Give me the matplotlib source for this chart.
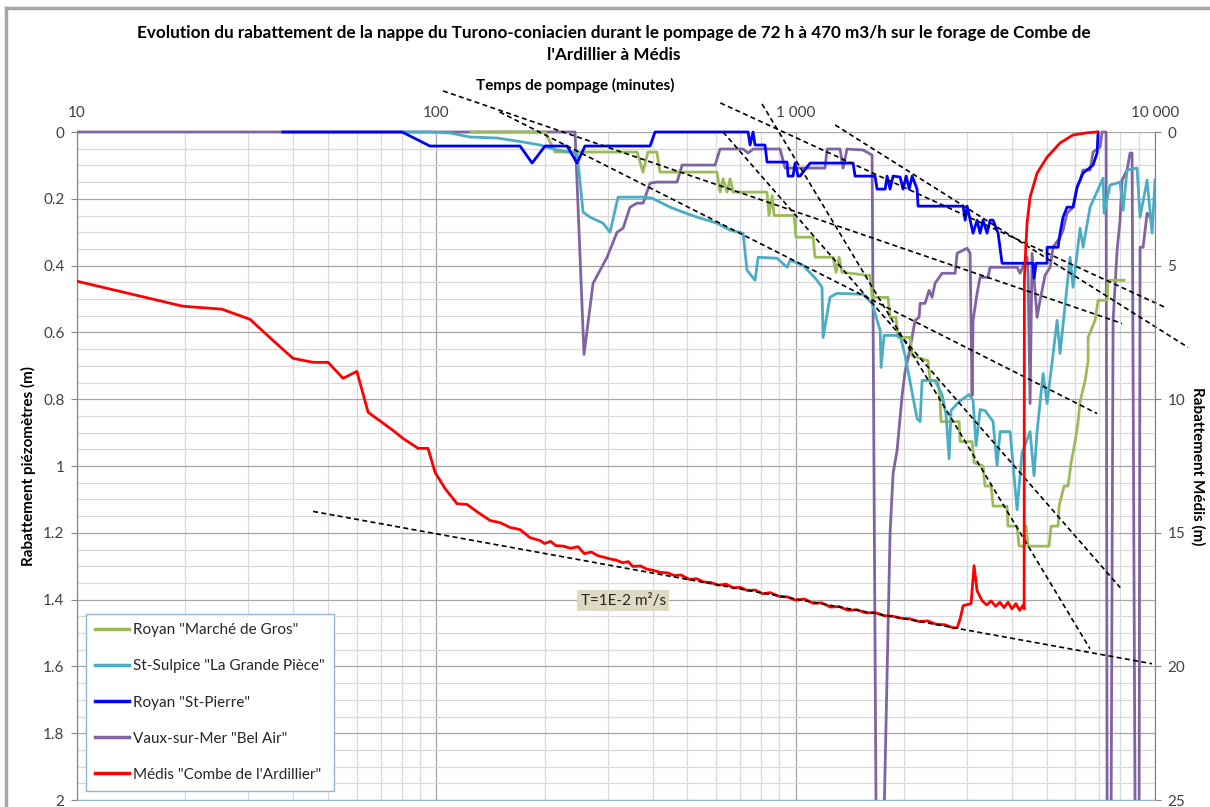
import matplotlib.pyplot as plt
from matplotlib.lines import Line2D
from matplotlib.patches import Rectangle
from matplotlib.ticker import (FixedLocator, FixedFormatter, LogLocator,
                               MultipleLocator, NullFormatter, FuncFormatter)

plt.rcParams['font.family'] = ['Lato', 'DejaVu Sans']

# pumping time (minutes) and drawdown (m) for the observation wells
green_t = [125, 200.7, 214, 362, 376, 388, 411, 419, 604, 616, 628, 644, 657, 670,
           832, 843, 860, 871, 990, 1002, 1118, 1132, 1271, 1296, 1321, 1346, 1611,
           1632, 1807, 1831, 1902, 1928, 2082, 2109, 2336, 2366, 2490, 2523, 2539,
           2850, 2869, 3097, 3137, 3323, 3365, 3499, 3544, 3873, 3899, 4130, 4187,
           4323, 4378, 4433, 5071, 5138, 5374, 5408, 5585, 5729, 5841, 5993, 6109,
           6187, 6389, 6513, 6513, 6812, 6945, 7358, 7405, 8204]
green_s = [0, 0, 0.06, 0.06, 0.12, 0.06, 0.06, 0.12, 0.12, 0.18, 0.14, 0.18, 0.14, 0.18,
           0.18, 0.25, 0.19, 0.25, 0.25, 0.315, 0.315, 0.375, 0.375, 0.42, 0.375, 0.42,
           0.43, 0.495, 0.495, 0.555, 0.555, 0.615, 0.615, 0.67, 0.685, 0.745, 0.745,
           0.807, 0.867, 0.867, 0.927, 0.927, 0.99, 1.0, 1.06, 1.06, 1.12, 1.12, 1.18,
           1.18, 1.24, 1.24, 1.18, 1.24, 1.24, 1.18, 1.18, 1.12, 1.06, 1.06, 0.99, 0.927,
           0.867, 0.807, 0.745, 0.685, 0.615, 0.564, 0.504, 0.504, 0.444, 0.444]

cyan_t = [80, 96.0, 109.2, 124.1, 147.5, 174.3, 194.3, 216.7, 235.5, 246.4, 256.1,
          267.8, 291.1, 304.3, 320.4, 376.2, 398.4, 447.1, 486.1, 531.7, 604.2, 656.9,
          714.0, 732.1, 770.9, 786.0, 887.6, 946.3, 964.7, 1048.6, 1147, 1184, 1192,
          1246, 1303, 1540, 1632, 1718, 1729, 1762, 1953, 2016, 2177, 2220, 2248, 2443,
          2555, 2621, 2673, 2707, 2850, 3038, 3117, 3177, 3260, 3366, 3543, 3635, 3706,
          3951, 4132, 4266, 4491, 4607, 4697, 4882, 5009, 5340, 5443, 5803, 5916, 6187,
          6308, 6597, 7170, 7216, 7499, 7993, 8150, 8360, 8914, 9088, 9506, 9815, 10000]
cyan_s = [0, 0, 0.003, 0.015, 0.018, 0.03, 0.039, 0.054, 0.06, 0.063, 0.24, 0.255,
          0.273, 0.30, 0.195, 0.195, 0.198, 0.225, 0.24, 0.255, 0.273, 0.294, 0.303,
          0.414, 0.444, 0.375, 0.378, 0.405, 0.384, 0.399, 0.444, 0.465, 0.615, 0.495,
          0.483, 0.486, 0.513, 0.594, 0.705, 0.609, 0.609, 0.669, 0.858, 0.867, 0.744,
          0.744, 0.786, 0.846, 0.978, 0.834, 0.807, 0.786, 0.804, 0.939, 0.831, 0.834,
          0.867, 0.999, 0.897, 0.897, 1.131, 0.960, 0.897, 1.029, 0.897, 0.723, 0.813,
          0.564, 0.663, 0.375, 0.465, 0.288, 0.345, 0.225, 0.138, 0.243, 0.159, 0.150,
          0.234, 0.114, 0.108, 0.255, 0.144, 0.303, 0.144]

blue_t = [37.4, 80.3, 96.0, 171.0, 184.7, 200.7, 231.1, 246.4, 259.3, 393.3, 406.1,
          737.2, 746.7, 761.1, 770.9, 821.8, 832.4, 946.3, 952.4, 983.3, 996.1, 1015.5,
          1028.5, 1097, 1445, 1463, 1663, 1685, 1774, 1797, 1831, 1867, 1953, 1990,
          2030, 2070, 2110, 2177, 2191, 2924, 2962, 3000, 3117, 3198, 3260, 3323, 3409,
          3476, 3543, 3659, 3753, 4577, 4607, 4668, 5009, 5009, 5374, 5443, 5548, 5692,
          5916, 6070, 6308, 6725, 6900, 6945]
blue_s = [0, 0, 0.042, 0.042, 0.093, 0.042, 0.042, 0.093, 0.042, 0.042, 0, 0, 0.039,
          0, 0.039, 0.039, 0.09, 0.09, 0.132, 0.132, 0.093, 0.132, 0.132, 0.093, 0.093,
          0.132, 0.132, 0.171, 0.171, 0.132, 0.171, 0.132, 0.135, 0.171, 0.132, 0.171,
          0.132, 0.171, 0.222, 0.222, 0.264, 0.222, 0.303, 0.264, 0.303, 0.264, 0.303,
          0.264, 0.264, 0.303, 0.393, 0.393, 0.438, 0.393, 0.393, 0.345, 0.345, 0.303,
          0.255, 0.225, 0.225, 0.165, 0.123, 0.099, 0.063, 0]

purple_t = [10, 243.2, 257.6, 273.0, 298.6, 318.4, 330.9, 346.0, 361.9, 376.2, 393.3,
            411.4, 467.7, 483.0, 596.7, 616.1, 714.0, 737.2, 761.1, 904.9, 934.3, 1207,
            1223, 1329, 1355, 1390, 1540, 1632, 1674, 1762, 1831, 1867, 1915, 1978,
            2016, 2055, 2108, 2149, 2205, 2220, 2291, 2351, 2397, 2443, 2555, 2778,
            2814, 3000, 3058, 3097, 3117, 3198, 3260, 3431, 3476, 4132, 4212, 4406,
            4434, 4491, 4549, 4697, 4788, 4944, 5105, 5204, 5443, 5548, 5692, 5916,
            6070, 6187, 6308, 6597, 6725, 7035, 7125, 7310, 7358, 7548, 7645, 7844,
            7993, 8096, 8360, 8523, 8634, 8803, 9031, 9088, 9266, 9506, 9690]
purple_s = [0, 0, 0.666, 0.453, 0.375, 0.300, 0.288, 0.225, 0.213, 0.213, 0.153, 0.150,
            0.150, 0.099, 0.099, 0.051, 0.051, 0.063, 0.051, 0.051, 0.108, 0.108, 0.051,
            0.051, 0.108, 0.051, 0.054, 0.069, 2.05, 2.05, 1.202, 1.022, 0.954, 0.789,
            0.717, 0.678, 0.615, 0.564, 0.555, 0.513, 0.513, 0.474, 0.495, 0.453, 0.423,
            0.423, 0.363, 0.348, 0.363, 0.789, 0.564, 0.483, 0.435, 0.435, 0.405, 0.405,
            0.423, 0.375, 0.423, 0.813, 0.363, 0.555, 0.504, 0.429, 0.405, 0.345, 0.315,
            0.294, 0.243, 0.225, 0.165, 0.144, 0.114, 0.114, 0.060, 0.045, 0, 0, 2.05,
            2.05, 0.564, 0.354, 0.264, 0.144, 0.114, 0.063, 0.063, 2.05, 2.05, 0.345,
            0.345, 0.243, 0.255]

# pumping well (right axis, m)
red_t = [10, 19.7, 25.3, 30.3, 35.1, 39.9, 45.4, 50.0, 55.0, 60.1, 64.6, 75.8, 80.8,
         89.0, 94.8, 99.2, 105.7, 114.2, 121.8, 130.7, 141.1, 150.4, 160.4, 171.0,
         182.3, 194.3, 200, 208, 215, 226, 236, 248, 258, 270, 282, 290, 305, 316, 330,
         342, 352, 370, 385, 400, 420, 440, 460, 480, 505, 530, 555, 580, 610, 640, 670,
         700, 735, 770, 810, 850, 900, 950, 1000, 1060, 1120, 1180, 1250, 1320, 1400,
         1480, 1570, 1660, 1760, 1860, 1970, 2080, 2200, 2330, 2460, 2600, 2750, 2814,
         2869, 2924, 3077, 3137, 3198, 3303, 3400, 3500, 3600, 3700, 3800, 3900, 4000,
         4100, 4200, 4300, 4323, 4330, 4370, 4406, 4491, 4697, 5009, 5443, 5916, 6471,
         6900]
red_s = [5.585, 6.52, 6.63, 7.01, 7.80, 8.47, 8.62, 8.62, 9.22, 8.96, 10.49, 11.17,
         11.47, 11.84, 11.84, 12.74, 13.34, 13.91, 13.94, 14.24, 14.54, 14.62, 14.80,
         14.88, 15.18, 15.29, 15.40, 15.32, 15.48, 15.50, 15.58, 15.52, 15.78, 15.72,
         15.86, 15.90, 15.98, 16.02, 16.12, 16.08, 16.26, 16.24, 16.36, 16.40, 16.48,
         16.50, 16.60, 16.58, 16.74, 16.72, 16.84, 16.86, 16.96, 16.92, 17.06, 17.04,
         17.16, 17.14, 17.28, 17.24, 17.38, 17.40, 17.52, 17.48, 17.64, 17.62, 17.78,
         17.76, 17.90, 17.88, 18.00, 17.98, 18.10, 18.12, 18.20, 18.22, 18.32, 18.30,
         18.42, 18.44, 18.56, 18.55, 18.22, 17.73, 17.65, 16.23, 17.17, 17.54, 17.70,
         17.55, 17.75, 17.60, 17.80, 17.60, 17.85, 17.65, 17.90, 17.70, 17.85, 5.5,
         4.3, 3.4, 2.44, 1.54, 0.94, 0.41, 0.11, 0.03, 0.0]

# Cooper-Jacob straight lines: (t0, s0, t1, s1)
piezo_fits = [(104.4, -0.123, 8090, 0.573),
              (150, -0.060, 6900, 0.843),
              (617, -0.087, 10670, 0.525),
              (806, -0.084, 6590, 1.547),
              (1288, -0.021, 12360, 0.645),
              (628, 0.0, 8000, 1.364)]
medis_fit = (45.4, 14.2, 9810, 19.9)

series_names = ['Royan "Marché de Gros"', 'St-Sulpice "La Grande Pièce"',
                'Royan "St-Pierre"', 'Vaux-sur-Mer "Bel Air"',
                'Médis "Combe de l\'Ardillier"']
colors = ['#9bbb59', '#4bacc6', '#0000ff', '#8064a2', '#ff0000']

xtick_vals = [10, 100, 1000, 10000]
xtick_labels = ['10', '100', '1 000', '10 000']

W, H = 1210, 807
fig = plt.figure(figsize=(W / 100, H / 100), dpi=100)
ax = fig.add_axes([77 / W, 1 - 800 / H, 1078 / W, 668 / H])
ax2 = ax.twinx()


def open_top(line, axes):
    # let curves sitting on the zero line show their full width
    line.set_clip_path(Rectangle((0, 0), 1, 1.02, transform=axes.transAxes))


lw = 2.0
for t, s, c, z in [(purple_t, purple_s, colors[3], 2),
                   (green_t, green_s, colors[0], 3),
                   (cyan_t, cyan_s, colors[1], 4),
                   (blue_t, blue_s, colors[2], 5)]:
    ln, = ax.plot(t, s, color=c, lw=lw, zorder=z)
    open_top(ln, ax)
ln, = ax2.plot(red_t, red_s, color=colors[4], lw=lw, zorder=3)
open_top(ln, ax2)

for t0, s0, t1, s1 in piezo_fits:
    ax.plot([t0, t1], [s0, s1], color='k', lw=1.2, dashes=(3, 2), zorder=6,
            clip_on=False)
ax2.plot(medis_fit[::2], medis_fit[1::2], color='k', lw=1.2, dashes=(3, 2),
         zorder=4, clip_on=False)

ax.set_xscale('log')
ax.set_xlim(10, 10000)
ax.set_ylim(2, 0)
ax2.set_ylim(25, 0)

ax.xaxis.tick_top()
ax.xaxis.set_major_locator(FixedLocator(xtick_vals))
ax.xaxis.set_major_formatter(FixedFormatter(xtick_labels))
ax.xaxis.set_minor_locator(LogLocator(base=10, subs=range(2, 10)))
ax.xaxis.set_minor_formatter(NullFormatter())
ax.yaxis.set_major_locator(MultipleLocator(0.2))
ax.yaxis.set_minor_locator(MultipleLocator(0.05))
ax.yaxis.set_major_formatter(FuncFormatter(lambda v, p: f'{v:g}'))
ax2.yaxis.set_major_locator(MultipleLocator(5))

ax.set_axisbelow(True)
ax.grid(which='major', axis='x', color='#a6a6a6', lw=0.9)
ax.grid(which='minor', axis='x', color='#d9d9d9', lw=0.9)
ax.grid(which='major', axis='y', color='#a6a6a6', lw=0.9)
ax.grid(which='minor', axis='y', color='#d9d9d9', lw=0.9)

tick_color = '#404040'
ax.tick_params(axis='x', which='both', length=0, pad=9, labelsize=11,
               labelcolor=tick_color)
ax.tick_params(axis='y', which='major', length=4, pad=5, labelsize=11,
               labelcolor=tick_color, color='#868686')
ax.tick_params(axis='y', which='minor', length=0)
ax2.tick_params(axis='y', length=4, pad=5, labelsize=11, labelcolor=tick_color,
                color='#868686')

for a in (ax, ax2):
    a.spines['top'].set_visible(False)
    for side in ('left', 'right'):
        a.spines[side].set_color('#868686')
    a.spines['bottom'].set_color('#95b3d7')

fig.text(0.507, 1 - 44 / H,
         "Evolution du rabattement de la nappe du Turono-coniacien durant le pompage "
         "de 72 h à 470 m3/h sur le forage de Combe de\nl'Ardillier à Médis",
         ha='center', va='center', fontsize=12.3, fontweight='bold', linespacing=1.45)
fig.text(575 / W, 1 - 85 / H, 'Temps de pompage (minutes)', ha='center',
         va='center', fontsize=11, fontweight='bold')
fig.text(28 / W, 1 - 466 / H, 'Rabattement piézomètres (m)', rotation=90,
         ha='center', va='center', fontsize=11, fontweight='bold')
fig.text(1198 / W, 1 - 466 / H, 'Rabattement Médis (m)', rotation=270,
         ha='center', va='center', fontsize=11, fontweight='bold')

ax.text(330.9, 1.403, 'T=1E-2 m²/s', ha='center', va='center', fontsize=11,
        color='#262626', zorder=7,
        bbox=dict(facecolor='#ddd9c3', edgecolor='none', pad=2.5))

handles = [Line2D([], [], color=c, lw=2.5) for c in colors]
leg = ax2.legend(handles, series_names, loc='lower left',
                 bbox_to_anchor=(9 / 1078, 9 / 668), borderaxespad=0,
                 frameon=True, fancybox=False, edgecolor='#95b3d7', framealpha=1,
                 fontsize=11, handlelength=2.2, handletextpad=0.3,
                 labelspacing=1.45, borderpad=0.6)
leg.set_zorder(10)
leg.get_frame().set_linewidth(1.0)
for txt in leg.get_texts():
    txt.set_color('#262626')

# chart frame
fig.add_artist(Line2D([6 / W, 6 / W], [0, 1 - 8 / H], transform=fig.transFigure,
                      color='#a6a6a6', lw=2.5))
fig.add_artist(Line2D([6 / W, 1], [1 - 8 / H, 1 - 8 / H], transform=fig.transFigure,
                      color='#a6a6a6', lw=2.5))

fig.savefig('out.png', dpi=100, facecolor='white')
